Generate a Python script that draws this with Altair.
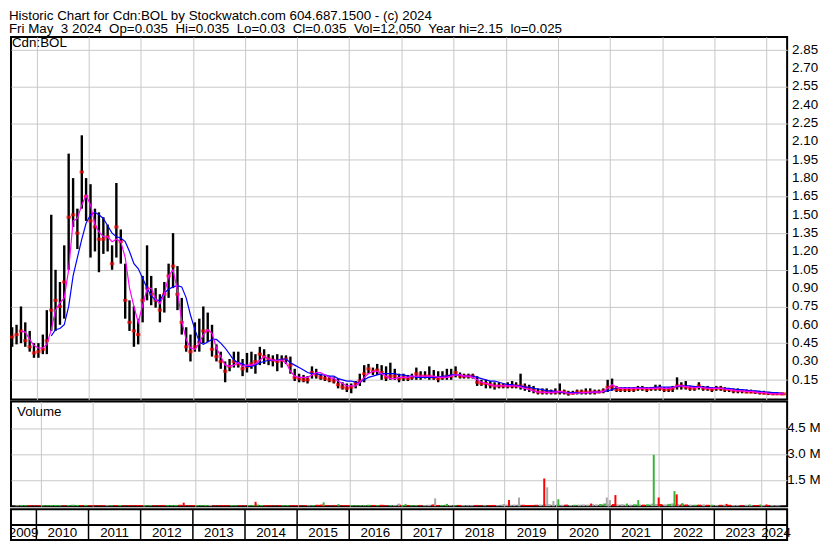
import altair as alt
import pandas as pd

# ---------------- data (monthly) ----------------
# months Jul 2009 .. May 2024
high = [
    0.58, 0.60, 0.75, 0.62, 0.55, 0.45,
    0.45, 0.52, 0.72, 1.50, 1.05, 0.95, 1.25, 2.00, 1.80, 1.55, 2.15, 1.80,
    1.75, 1.55, 1.52, 1.48, 1.42, 1.25, 1.76, 1.38, 1.10, 0.80, 0.75, 0.65,
    1.00, 1.25, 1.00, 0.90, 0.85, 0.95, 1.10, 1.35, 1.08, 0.82, 0.58, 0.52,
    0.62, 0.65, 0.75, 0.70, 0.60, 0.44, 0.38, 0.30, 0.32, 0.38, 0.38, 0.32,
    0.37, 0.38, 0.36, 0.42, 0.40, 0.36, 0.35, 0.36, 0.35, 0.35, 0.34, 0.24,
    0.20, 0.19, 0.18, 0.26, 0.24, 0.20, 0.19, 0.18, 0.17, 0.16, 0.13, 0.12,
    0.12, 0.14, 0.20, 0.27, 0.28, 0.25, 0.28, 0.27, 0.26, 0.29, 0.24, 0.20,
    0.20, 0.19, 0.20, 0.25, 0.22, 0.22, 0.26, 0.23, 0.22, 0.22, 0.24, 0.24,
    0.26, 0.21, 0.20, 0.20, 0.20, 0.18, 0.15, 0.15, 0.14, 0.13, 0.13, 0.12,
    0.13, 0.14, 0.13, 0.20, 0.12, 0.11, 0.10, 0.08, 0.08, 0.08, 0.07, 0.08,
    0.12, 0.07, 0.06, 0.06, 0.07, 0.07, 0.08, 0.08, 0.07, 0.07, 0.08, 0.15,
    0.16, 0.10, 0.09, 0.09, 0.09, 0.09, 0.10, 0.10, 0.09, 0.09, 0.11, 0.11,
    0.09, 0.09, 0.10, 0.17, 0.13, 0.14, 0.10, 0.10, 0.13, 0.10, 0.10, 0.09,
    0.10, 0.10, 0.09, 0.08, 0.08, 0.08, 0.07, 0.07, 0.07, 0.06, 0.06, 0.06,
    0.05, 0.05, 0.045, 0.045, 0.035,
]
low = [
    0.42, 0.44, 0.45, 0.42, 0.38, 0.33,
    0.33, 0.36, 0.36, 0.55, 0.55, 0.60, 0.65, 1.05, 1.40, 1.22, 1.55, 1.45,
    1.15, 1.20, 1.03, 1.18, 1.20, 1.05, 1.15, 1.10, 0.65, 0.55, 0.42, 0.44,
    0.62, 0.80, 0.76, 0.74, 0.62, 0.70, 0.82, 0.90, 0.72, 0.52, 0.38, 0.30,
    0.38, 0.38, 0.45, 0.46, 0.34, 0.30, 0.24, 0.13, 0.22, 0.25, 0.25, 0.18,
    0.21, 0.24, 0.20, 0.27, 0.28, 0.27, 0.26, 0.22, 0.25, 0.28, 0.20, 0.14,
    0.13, 0.13, 0.12, 0.16, 0.16, 0.15, 0.14, 0.13, 0.12, 0.08, 0.07, 0.05,
    0.04, 0.08, 0.10, 0.13, 0.20, 0.19, 0.19, 0.15, 0.14, 0.15, 0.15, 0.13,
    0.14, 0.14, 0.15, 0.15, 0.15, 0.16, 0.15, 0.15, 0.13, 0.15, 0.15, 0.15,
    0.17, 0.16, 0.16, 0.16, 0.16, 0.10, 0.10, 0.08, 0.08, 0.07, 0.08, 0.08,
    0.08, 0.08, 0.08, 0.07, 0.06, 0.05, 0.04, 0.03, 0.03, 0.03, 0.03, 0.03,
    0.03, 0.03, 0.02, 0.03, 0.03, 0.03, 0.03, 0.03, 0.03, 0.04, 0.04, 0.05,
    0.06, 0.05, 0.05, 0.05, 0.05, 0.05, 0.06, 0.06, 0.05, 0.06, 0.06, 0.06,
    0.05, 0.05, 0.05, 0.07, 0.07, 0.07, 0.06, 0.06, 0.07, 0.06, 0.06, 0.05,
    0.06, 0.06, 0.05, 0.05, 0.04, 0.04, 0.04, 0.04, 0.04, 0.035, 0.03, 0.03,
    0.025, 0.025, 0.025, 0.025, 0.03,
]
close = [
    0.50, 0.52, 0.55, 0.47, 0.42, 0.37,
    0.38, 0.40, 0.47, 0.72, 0.80, 0.75, 0.95, 1.48, 1.50, 1.35, 1.85, 1.65,
    1.45, 1.40, 1.30, 1.30, 1.32, 1.10, 1.40, 1.28, 0.80, 0.62, 0.55, 0.52,
    0.80, 0.90, 0.85, 0.80, 0.72, 0.85, 1.00, 1.08, 0.85, 0.62, 0.42, 0.38,
    0.42, 0.46, 0.55, 0.55, 0.40, 0.34, 0.30, 0.22, 0.26, 0.30, 0.28, 0.24,
    0.26, 0.28, 0.30, 0.36, 0.34, 0.32, 0.31, 0.30, 0.31, 0.32, 0.27, 0.17,
    0.16, 0.15, 0.15, 0.21, 0.19, 0.17, 0.16, 0.15, 0.14, 0.11, 0.09, 0.08,
    0.09, 0.12, 0.14, 0.20, 0.24, 0.22, 0.23, 0.21, 0.17, 0.18, 0.18, 0.16,
    0.17, 0.16, 0.17, 0.20, 0.18, 0.18, 0.18, 0.17, 0.16, 0.17, 0.18, 0.18,
    0.21, 0.18, 0.18, 0.18, 0.18, 0.13, 0.12, 0.12, 0.11, 0.10, 0.10, 0.10,
    0.10, 0.10, 0.10, 0.10, 0.09, 0.08, 0.07, 0.05, 0.05, 0.05, 0.05, 0.05,
    0.05, 0.05, 0.04, 0.04, 0.05, 0.05, 0.05, 0.05, 0.05, 0.05, 0.06, 0.09,
    0.09, 0.07, 0.07, 0.07, 0.07, 0.07, 0.08, 0.08, 0.07, 0.08, 0.08, 0.08,
    0.07, 0.07, 0.08, 0.10, 0.10, 0.09, 0.08, 0.08, 0.10, 0.08, 0.08, 0.07,
    0.08, 0.08, 0.07, 0.07, 0.06, 0.06, 0.06, 0.05, 0.05, 0.05, 0.045, 0.04,
    0.04, 0.035, 0.035, 0.035, 0.035,
]
ma_short = [
    None, None, 0.55, 0.54, 0.48, 0.43,
    0.41, 0.41, 0.44, 0.56, 0.72, 0.78, 0.82, 1.05, 1.45, 1.47, 1.58, 1.66,
    1.58, 1.42, 1.36, 1.32, 1.32, 1.28, 1.30, 1.28, 1.15, 0.90, 0.75, 0.62,
    0.76, 0.89, 0.90, 0.81, 0.77, 0.85, 1.00, 1.05, 0.88, 0.63, 0.48, 0.41,
    0.40, 0.45, 0.52, 0.56, 0.53, 0.41, 0.34, 0.27, 0.26, 0.27, 0.29, 0.26,
    0.27, 0.27, 0.28, 0.31, 0.34, 0.32, 0.31, 0.31, 0.31, 0.29, 0.22, 0.18,
    0.17, 0.17, 0.17, 0.19, 0.21, 0.21, 0.19, 0.17, 0.16, 0.14, 0.12, 0.10,
    0.10, 0.10, 0.13, 0.17, 0.20, 0.22, 0.22, 0.20, 0.18, 0.16, 0.16, 0.17,
    0.17, 0.17, 0.18, 0.18, 0.18, 0.18, 0.18, 0.18, 0.17, 0.17, 0.17, 0.18,
    0.19, 0.19, 0.18, 0.18, 0.17, 0.15, 0.13, 0.12, 0.11, 0.10, 0.10, 0.10,
    0.10, 0.10, 0.10, 0.09, 0.08, 0.07, 0.06, 0.05, 0.05, 0.045, 0.045, 0.05,
    0.055, 0.05, 0.04, 0.04, 0.04, 0.045, 0.045, 0.05, 0.05, 0.05, 0.055, 0.08,
    0.11, 0.09, 0.08, 0.08, 0.08, 0.08, 0.08, 0.08, 0.08, 0.08, 0.08, 0.085,
    0.08, 0.08, 0.085, 0.10, 0.10, 0.095, 0.09, 0.085, 0.09, 0.085, 0.08, 0.08,
    0.08, 0.08, 0.075, 0.07, 0.065, 0.06, 0.06, 0.055, 0.055, 0.05, 0.045, 0.045,
    0.04, 0.035, 0.035, 0.035, 0.035,
]
ma_long = [
    None, None, None, None, None, None,
    None, None, None, 0.51, 0.56, 0.57, 0.60, 0.75, 1.00, 1.15, 1.30, 1.43,
    1.50, 1.52, 1.50, 1.47, 1.41, 1.35, 1.32, 1.31, 1.28, 1.20, 1.10, 1.06,
    0.98, 0.90, 0.84, 0.80, 0.80, 0.86, 0.89, 0.91, 0.92, 0.91, 0.82, 0.68,
    0.56, 0.46, 0.44, 0.46, 0.48, 0.48, 0.45, 0.41, 0.36, 0.31, 0.29, 0.28,
    0.26, 0.26, 0.27, 0.29, 0.30, 0.31, 0.31, 0.31, 0.32, 0.32, 0.29, 0.27,
    0.25, 0.23, 0.21, 0.20, 0.20, 0.19, 0.19, 0.18, 0.18, 0.16, 0.15, 0.14,
    0.14, 0.13, 0.13, 0.15, 0.17, 0.18, 0.19, 0.20, 0.20, 0.20, 0.20, 0.19,
    0.19, 0.18, 0.18, 0.17, 0.17, 0.17, 0.17, 0.17, 0.17, 0.18, 0.18, 0.19,
    0.19, 0.19, 0.18, 0.18, 0.18, 0.17, 0.16, 0.15, 0.14, 0.14, 0.13, 0.12,
    0.11, 0.11, 0.10, 0.10, 0.09, 0.09, 0.08, 0.075, 0.07, 0.06, 0.06, 0.055,
    0.05, 0.045, 0.045, 0.045, 0.045, 0.045, 0.045, 0.045, 0.05, 0.05, 0.055, 0.06,
    0.07, 0.085, 0.085, 0.085, 0.085, 0.085, 0.085, 0.085, 0.085, 0.085, 0.09, 0.09,
    0.09, 0.09, 0.09, 0.095, 0.10, 0.10, 0.10, 0.095, 0.095, 0.09, 0.09, 0.085,
    0.085, 0.08, 0.08, 0.08, 0.075, 0.07, 0.07, 0.065, 0.06, 0.06, 0.055, 0.05,
    0.05, 0.045, 0.045, 0.04, 0.04,
]
# monthly background volume (thousands of shares)
vol_base_k = [
    50, 60, 50, 60, 50, 60,
    60, 50, 60, 70, 60, 50, 60, 80, 70, 60, 70, 60,
    60, 50, 60, 50, 50, 60, 70, 50, 60, 50, 60, 50,
    50, 60, 50, 60, 70, 60, 50, 70, 80, 60, 50, 60,
    60, 50, 70, 60, 50, 50, 60, 50, 60, 50, 60, 50,
    60, 70, 90, 60, 50, 60, 50, 60, 50, 60, 50, 60,
    50, 60, 50, 60, 80, 90, 60, 50, 70, 60, 50, 60,
    60, 50, 60, 70, 80, 70, 60, 80, 60, 70, 60, 90,
    70, 60, 50, 60, 70, 60, 80, 100, 60, 70, 80, 60,
    60, 70, 60, 50, 60, 70, 60, 50, 60, 70, 60, 90,
    90, 80, 90, 100, 80, 60, 70, 80, 90, 120, 110, 90,
    100, 80, 90, 70, 80, 90, 100, 90, 110, 100, 120, 150,
    130, 120, 100, 110, 100, 90, 110, 100, 90, 110, 140, 120,
    120, 100, 130, 140, 120, 110, 100, 90, 80, 90, 100, 80,
    80, 70, 80, 90, 80, 70, 60, 70, 80, 70, 60, 70,
    60, 70, 60, 50, 40,
]
# individual large volume days
spike_dates = [
    "2012-10-09", "2014-03-03", "2015-06-29", "2015-10-12", "2016-12-13",
    "2017-01-30", "2017-08-28", "2017-11-20", "2018-12-30", "2019-02-03",
    "2019-04-15", "2019-10-11", "2019-11-01", "2019-12-15", "2020-01-19",
    "2020-09-08", "2020-12-28", "2021-01-19", "2021-02-27", "2021-05-20",
    "2021-08-08", "2021-11-26", "2021-12-31", "2022-04-04", "2022-04-22",
    "2022-05-08", "2022-06-17", "2023-04-27", "2023-10-08", "2023-12-23",
    "2024-02-04",
]
spike_vol = [
    200000, 250000, 220000, 120000, 150000,
    130000, 450000, 130000, 120000, 350000,
    500000, 1600000, 1090000, 300000, 400000,
    150000, 500000, 350000, 640000, 150000,
    350000, 2970000, 500000, 150000, 870000,
    680000, 180000, 130000, 100000, 100000,
    100000,
]
spike_dir = [
    "down", "down", "up", "up", "flat",
    "up", "flat", "up", "flat", "down",
    "flat", "down", "flat", "flat", "up",
    "down", "flat", "flat", "down", "up",
    "up", "up", "down", "flat", "up",
    "down", "up", "down", "up", "up",
    "down",
]
price_ticks = [0.15, 0.30, 0.45, 0.60, 0.75, 0.90, 1.05, 1.20, 1.35, 1.50,
               1.65, 1.80, 1.95, 2.10, 2.25, 2.40, 2.55, 2.70, 2.85]
price_tick_labels = ["0.15", "0.30", "0.45", "0.60", "0.75", "0.90", "1.05", "1.20", "1.35", "1.50",
                     "1.65", "1.80", "1.95", "2.10", "2.25", "2.40", "2.55", "2.70", "2.85"]
volume_ticks = [1500000, 3000000, 4500000]
volume_tick_labels = ["1.5 M", "3.0 M", "4.5 M"]
year_labels = [str(y) for y in range(2009, 2025)]
year_label_dates = ["2009-10-03"] + [f"{y}-07-02" for y in range(2010, 2024)] + ["2024-03-08"]
year_bounds = [f"{y}-01-01" for y in range(2010, 2025)]

header1 = "Historic Chart for Cdn:BOL by Stockwatch.com 604.687.1500 - (c) 2024"
S2 = "\u00a0 "
header2 = ("Fri May" + S2 + "3 2024" + S2 + "Op=0.035" + S2 + "Hi=0.035" + S2 + "Lo=0.03" + S2
           + "Cl=0.035" + S2 + "Vol=12,050" + S2 + "Year hi=2.15" + S2 + "lo=0.025")

# ---------------- frames ----------------
dates = list(pd.date_range("2009-07-01", "2024-05-01", freq="MS") + pd.Timedelta(days=14))
dates[-1] = pd.Timestamp("2024-05-02")

price = pd.DataFrame({"date": dates, "high": high, "low": low, "close": close})
mas = pd.DataFrame({"date": dates, "v": ma_short}).dropna()
mal = pd.DataFrame({"date": dates, "v": ma_long}).dropna()

vdir = ["flat"] + ["up" if b > a else ("down" if b < a else "flat") for a, b in zip(close[:-1], close[1:])]
vol = pd.DataFrame({"date": dates, "vol": [v * 1000 for v in vol_base_k], "dir": vdir})
spk = pd.DataFrame({"date": pd.to_datetime(spike_dates), "vol": spike_vol, "dir": spike_dir})

GRID = "#c8c8c8"
FONT = "Liberation Sans"
FS = 13.4
START = pd.Timestamp("2009-07-07")
END = pd.Timestamp("2024-05-25")
W = 779

xscale = alt.Scale(domain=[alt.DateTime(year=2009, month=7, date=7),
                           alt.DateTime(year=2024, month=5, date=25)], nice=False)
ystarts = [alt.DateTime(year=y, month=1, date=1) for y in range(2010, 2025)]
xaxis = alt.Axis(values=ystarts, grid=True, gridColor=GRID, labels=False, ticks=False,
                 domain=False, title=None)

# ---------------- price panel ----------------
pscale = alt.Scale(domain=[-0.0114, 2.955], nice=False, zero=False)
paxis = alt.Axis(orient="right", values=price_ticks, grid=True, gridColor=GRID,
                 ticks=False, domain=False, labels=False, title=None)

pb = alt.Chart(price).encode(x=alt.X("date:T", scale=xscale, axis=xaxis))
bars = pb.mark_rule(color="black", strokeWidth=2.4).encode(
    y=alt.Y("low:Q", scale=pscale, axis=paxis), y2="high:Q")
cticks = pb.mark_tick(color="#ff0000", orient="horizontal", thickness=3, size=4.4).encode(
    y=alt.Y("close:Q"))
lline = alt.Chart(mal).mark_line(color="#0000ff", strokeWidth=1.2).encode(x="date:T", y="v:Q")
sline = alt.Chart(mas).mark_line(color="#ff00ff", strokeWidth=1.2).encode(x="date:T", y="v:Q")
plab = alt.Chart(pd.DataFrame({"date": [START], "v": [2.905], "t": ["Cdn:BOL"]})).mark_text(
    align="left", baseline="middle", dx=1, fontSize=FS, color="black", font=FONT
).encode(x="date:T", y="v:Q", text="t:N")
ptl = alt.Chart(pd.DataFrame({"date": [END] * len(price_ticks), "v": price_ticks,
                              "t": price_tick_labels})).mark_text(
    align="left", baseline="middle", dx=5, fontSize=FS, color="black", font=FONT
).encode(x="date:T", y="v:Q", text="t:N")
price_chart = alt.layer(bars, cticks, lline, sline, plab, ptl).properties(width=W, height=364)

# ---------------- volume panel ----------------
cscale = alt.Scale(domain=["up", "down", "flat"], range=["#3cb43c", "#ff0000", "#a8a8a8"])
vscale = alt.Scale(domain=[0, 6050000], nice=False)
vaxis = alt.Axis(orient="right", values=volume_ticks, grid=True, gridColor=GRID,
                 ticks=False, domain=False, labels=False, title=None)
vb = alt.Chart(vol).mark_bar(size=3.6).encode(
    x=alt.X("date:T", scale=xscale, axis=xaxis),
    y=alt.Y("vol:Q", scale=vscale, axis=vaxis),
    color=alt.Color("dir:N", scale=cscale, legend=None))
vs = alt.Chart(spk).mark_bar(size=2).encode(
    x="date:T", y="vol:Q", color=alt.Color("dir:N", scale=cscale, legend=None))
vlab = alt.Chart(pd.DataFrame({"date": [START], "v": [5416000], "t": ["Volume"]})).mark_text(
    align="left", baseline="middle", dx=1, fontSize=FS, color="black", font=FONT
).encode(x="date:T", y="v:Q", text="t:N")
vtl = alt.Chart(pd.DataFrame({"date": [END] * 3, "v": volume_ticks,
                              "t": volume_tick_labels})).mark_text(
    align="left", baseline="middle", dx=5, fontSize=FS, color="black", font=FONT
).encode(x="date:T", y="v:Q", text="t:N")
vol_chart = alt.layer(vb, vs, vlab, vtl).properties(width=W, height=105)

# ---------------- year strip ----------------
yscale = alt.Scale(domain=[0, 31], nice=False)
yr_rules = alt.Chart(pd.DataFrame({"date": pd.to_datetime(year_bounds)})).mark_rule(
    color="black", strokeWidth=1.5
).encode(x=alt.X("date:T", scale=xscale, axis=None),
         y=alt.Y(datum=0, scale=yscale, axis=None), y2=alt.Y2(datum=31))
yr_line = alt.Chart(pd.DataFrame({"date": [START]})).mark_rule(color="black", strokeWidth=2).encode(
    y=alt.Y(datum=15, scale=yscale, axis=None))
ylab_df = pd.DataFrame({"date": pd.to_datetime(year_label_dates), "t": year_labels})
yr_text0 = alt.Chart(ylab_df.iloc[:1]).mark_text(
    align="center", baseline="middle", fontSize=FS, color="black", font=FONT, clip=True
).encode(x="date:T", y=alt.Y(datum=7.5), text="t:N")
yr_text = alt.Chart(ylab_df.iloc[1:]).mark_text(
    align="center", baseline="middle", fontSize=FS, color="black", font=FONT
).encode(x="date:T", y=alt.Y(datum=7.5), text="t:N")
year_chart = alt.layer(yr_rules, yr_line, yr_text0, yr_text).properties(width=W, height=31)

chart = alt.vconcat(
    price_chart, vol_chart, year_chart, spacing=0, padding=0,
    title=alt.TitleParams(text=[header1, header2], anchor="start", fontSize=FS,
                          fontWeight="normal", font=FONT, color="black",
                          lineHeight=12.5, offset=0),
).configure(font=FONT).configure_view(stroke="black", strokeWidth=2)

chart.save("out.html", embed_options={"renderer": "svg", "actions": False})
